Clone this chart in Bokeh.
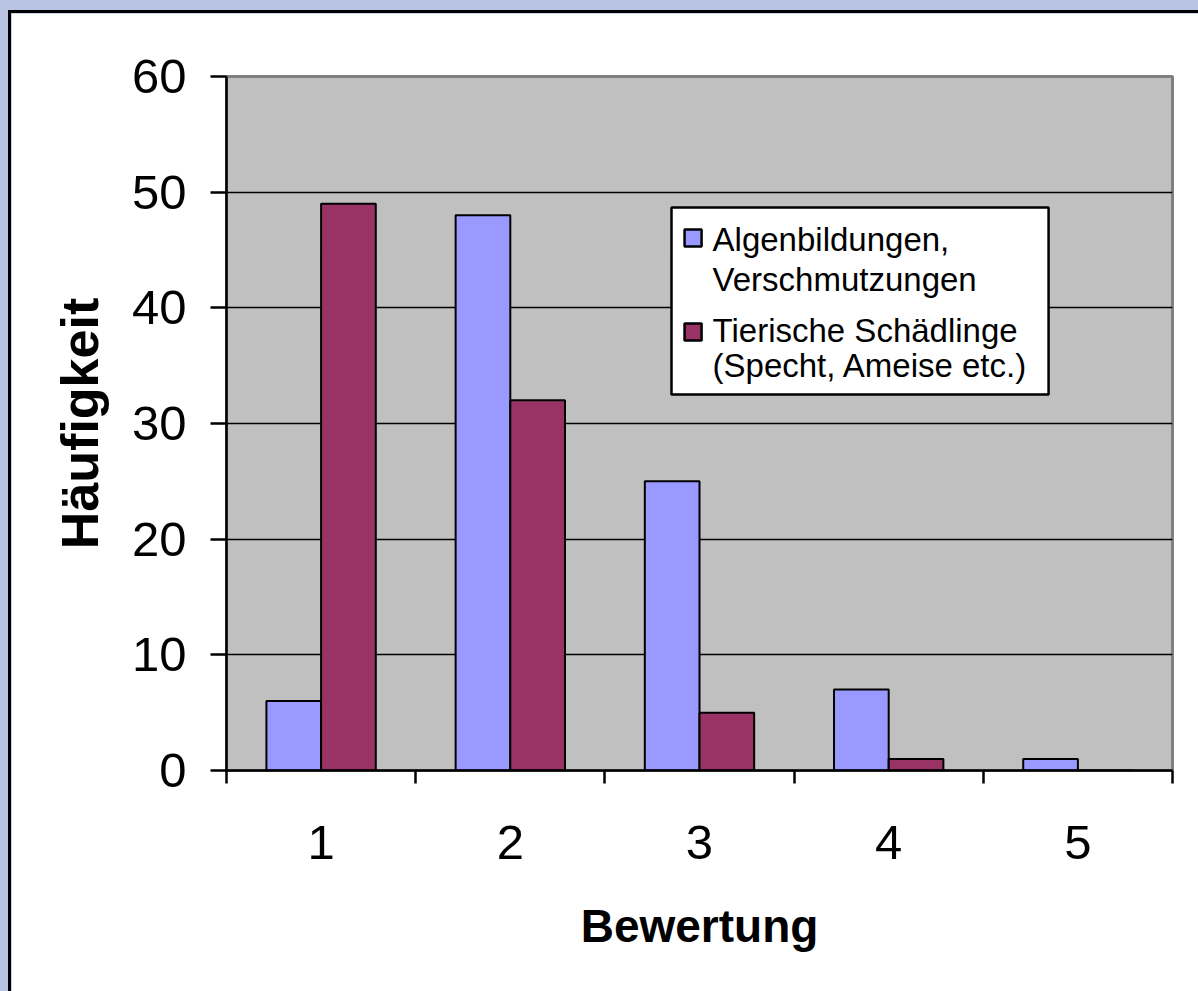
from bokeh.plotting import figure
from bokeh.models import (ColumnDataSource, FixedTicker, BoxAnnotation, Label)
from bokeh.transform import dodge
from bokeh.embed import file_html
from bokeh.resources import INLINE

# Ratings 1..5 and how often each was given per damage type
ratings = [1, 2, 3, 4, 5]
algae = [6, 48, 25, 7, 1]
pests = [49, 32, 5, 1, 0]
y_ticks = [0, 10, 20, 30, 40, 50, 60]

series_names = ["Algenbildungen,", "Verschmutzungen",
                "Tierische Schädlinge", "(Specht, Ameise etc.)"]

BLUE = "#9999FF"
MAROON = "#993366"
PLOT_BG = "#C0C0C0"
PAGE_BG = "#B9C3E3"
FONT = "Liberation Sans"

src = ColumnDataSource(dict(x=ratings, algae=algae, pests=pests))

p = figure(width=1190, height=981,
           x_range=(0.5, 5.5), y_range=(0, 60),
           output_backend="svg", toolbar_location=None,
           min_border_left=215, min_border_top=63,
           min_border_right=29, min_border_bottom=224,
           background_fill_color=PLOT_BG, border_fill_color="white")
p.margin = (10, 0, 0, 8)
p.styles = {"border-left": "3px solid #000", "border-top": "3px solid #000"}

p.outline_line_color = "#808080"
p.outline_line_width = 3

bw = 0.289
p.vbar(x=dodge("x", -bw / 2, range=p.x_range), top="algae", width=bw, source=src,
       fill_color=BLUE, line_color="black", line_width=2)
p.vbar(x=dodge("x", bw / 2, range=p.x_range), top="pests", width=bw, source=src,
       fill_color=MAROON, line_color="black", line_width=2)

# grid
p.xgrid.visible = False
p.ygrid.ticker = FixedTicker(ticks=y_ticks[1:-1])
p.ygrid.grid_line_color = "black"
p.ygrid.grid_line_width = 1.5

# y axis
ya = p.yaxis[0]
ya.ticker = FixedTicker(ticks=y_ticks)
ya.axis_line_width = 2.5
ya.major_tick_line_width = 2.5
ya.major_tick_out = 16
ya.major_tick_in = 0
ya.minor_tick_line_color = None
ya.major_label_text_font = FONT
ya.major_label_text_font_size = "49px"
ya.major_label_text_color = "black"
ya.major_label_standoff = 24
ya.axis_label = "Häufigkeit"
ya.axis_label_text_font = FONT
ya.axis_label_text_font_size = "52px"
ya.axis_label_text_font_style = "bold"
ya.axis_label_text_color = "black"
ya.axis_label_standoff = 20

# x axis: labels at the ratings, ticks between the groups
xa = p.xaxis[0]
xa.ticker = FixedTicker(ticks=ratings, minor_ticks=[r - 0.5 for r in ratings] + [ratings[-1] + 0.5])
xa.axis_line_width = 2.5
xa.major_tick_line_color = None
xa.major_tick_out = 0
xa.major_tick_in = 0
xa.minor_tick_line_color = "black"
xa.minor_tick_line_width = 2.5
xa.minor_tick_out = 13
xa.minor_tick_in = 0
xa.major_label_text_font = FONT
xa.major_label_text_font_size = "49px"
xa.major_label_text_color = "black"
xa.major_label_standoff = 42
xa.axis_label = "Bewertung"
xa.axis_label_text_font = FONT
xa.axis_label_text_font_size = "46px"
xa.axis_label_text_font_style = "bold"
xa.axis_label_text_color = "black"
xa.axis_label_standoff = 38

# legend box
p.add_layout(BoxAnnotation(left=2.852, right=4.845, bottom=32.51, top=48.67,
                           fill_color="white", fill_alpha=1,
                           line_color="black", line_alpha=1, line_width=2.5,
                           level="overlay"))
p.add_layout(BoxAnnotation(left=2.921, right=3.011, bottom=45.30, top=46.77,
                           fill_color=BLUE, fill_alpha=1,
                           line_color="black", line_alpha=1, line_width=2.5,
                           level="overlay"))
p.add_layout(BoxAnnotation(left=2.921, right=3.011, bottom=37.18, top=38.65,
                           fill_color=MAROON, fill_alpha=1,
                           line_color="black", line_alpha=1, line_width=2.5,
                           level="overlay"))
for txt, yb in zip(series_names, [45.91, 42.45, 38.04, 35.02]):
    p.add_layout(Label(x=3.069, y=yb, text=txt, text_font=FONT,
                       text_font_size="33px", text_color="black",
                       text_baseline="alphabetic", text_align="left",
                       level="overlay"))

html = file_html(p, INLINE)
page_css = ("<style>html, body { margin: 0; padding: 0; overflow: hidden; "
            "background: %s; }</style>" % PAGE_BG)
html = html.replace("</head>", page_css + "\n</head>", 1)
open("out.html", "w").write(html)
